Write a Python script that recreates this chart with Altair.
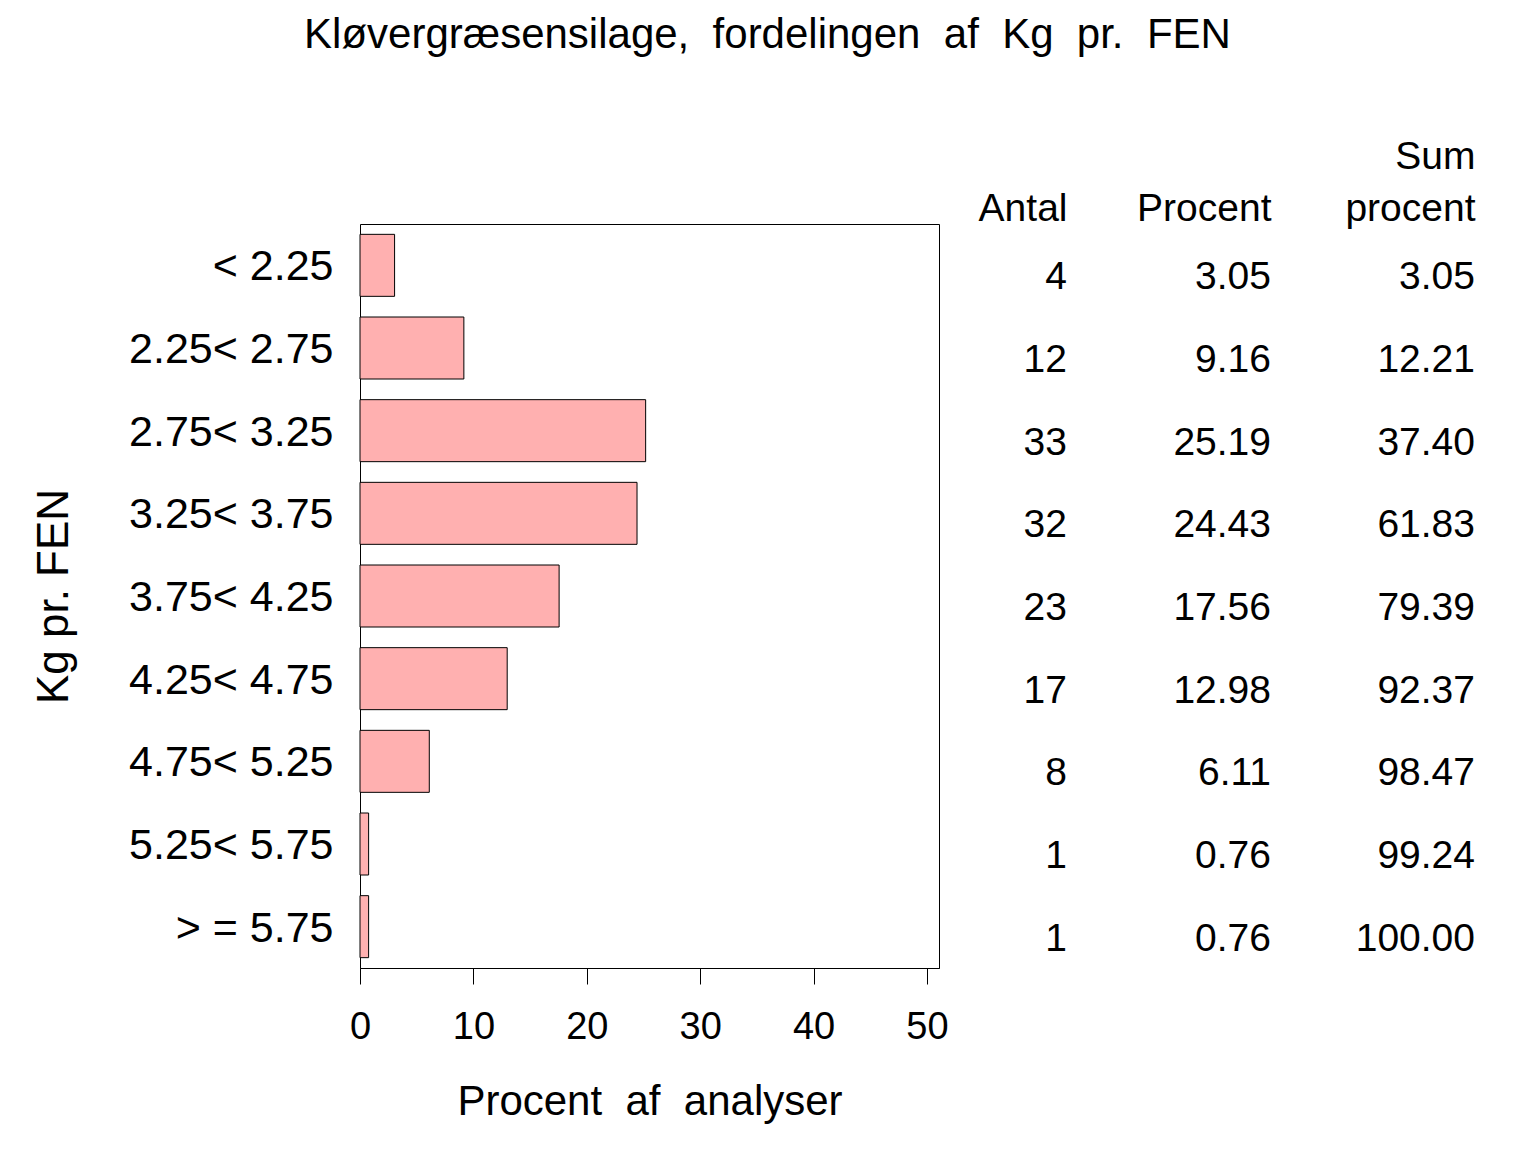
import altair as alt
import pandas as pd

categories = ["< 2.25", "2.25< 2.75", "2.75< 3.25", "3.25< 3.75", "3.75< 4.25",
              "4.25< 4.75", "4.75< 5.25", "5.25< 5.75", "> = 5.75"]
antal = [4, 12, 33, 32, 23, 17, 8, 1, 1]
procent = [3.05, 9.16, 25.19, 24.43, 17.56, 12.98, 6.11, 0.76, 0.76]
sum_procent = [3.05, 12.21, 37.40, 61.83, 79.39, 92.37, 98.47, 99.24, 100.00]
x_ticks = [0, 10, 20, 30, 40, 50]
columns = ["|Antal", "|Procent", "Sum|procent"]

bars_df = pd.DataFrame({"kat": categories, "procent": procent})
rows = []
for i, k in enumerate(categories):
    rows.append({"kat": k, "kol": columns[0], "txt": f"{antal[i]}"})
    rows.append({"kat": k, "kol": columns[1], "txt": f"{procent[i]:.2f}"})
    rows.append({"kat": k, "kol": columns[2], "txt": f"{sum_procent[i]:.2f}"})
table_df = pd.DataFrame(rows)

FONT = "Liberation Sans"

bars = alt.Chart(bars_df).mark_bar(fill="#ffb0b0", stroke="black", strokeWidth=1).encode(
    x=alt.X("procent:Q",
            scale=alt.Scale(domain=[0, 51.06], nice=False, zero=True),
            axis=alt.Axis(values=x_ticks, title="Procent\u00a0 af\u00a0 analyser", grid=False,
                          tickSize=16, tickColor="black", domainColor="black",
                          labelFontSize=38, labelPadding=24, labelFlush=False,
                          titleFontSize=42, titlePadding=35, titleFontWeight="normal",
                          labelColor="black", titleColor="black")),
    y=alt.Y("kat:N", sort=categories,
            scale=alt.Scale(paddingInner=0.25, paddingOuter=0.125),
            axis=alt.Axis(title="Kg pr. FEN", ticks=False, domain=False,
                          labelFontSize=43, labelPadding=27, labelLimit=400, labelOffset=2,
                          titleFontSize=44, titlePadding=84, titleFontWeight="normal",
                          labelColor="black", titleColor="black")),
).properties(width=579, height=744,
             view=alt.ViewBackground(stroke="black", strokeWidth=1))

table = alt.Chart(table_df).mark_text(align="right", baseline="alphabetic", dy=24,
                                      fontSize=39, color="black").encode(
    x=alt.X("kol:N", sort=columns,
            scale=alt.Scale(type="point", padding=0),
            axis=alt.Axis(orient="top", title=None, ticks=False, tickSize=0, domain=False,
                          labelAngle=0, labelAlign="right", labelBaseline="alphabetic",
                          labelExpr="split(datum.value, '|')", labelLineHeight=52,
                          labelFontSize=39, labelPadding=56, labelLimit=500,
                          labelOverlap=False, labelColor="black")),
    y=alt.Y("kat:N", sort=categories, scale=alt.Scale(type="point", padding=0.5), axis=None),
    text="txt:N",
).properties(width=408, height=744,
             view=alt.ViewBackground(stroke="transparent"))

chart = alt.hconcat(bars, table, spacing=128, bounds="flush").properties(
    title=alt.TitleParams(
        text="Kløvergræsensilage,\u00a0 fordelingen\u00a0 af\u00a0 Kg\u00a0 pr.\u00a0 FEN",
        fontSize=42, fontWeight="normal", anchor="middle", offset=80, dx=14, color="black"),
    padding={"left": 23, "top": 5, "right": 5, "bottom": 5},
    background="white",
).configure(font=FONT)

chart.save("out.html", embed_options={"renderer": "svg", "actions": False})
